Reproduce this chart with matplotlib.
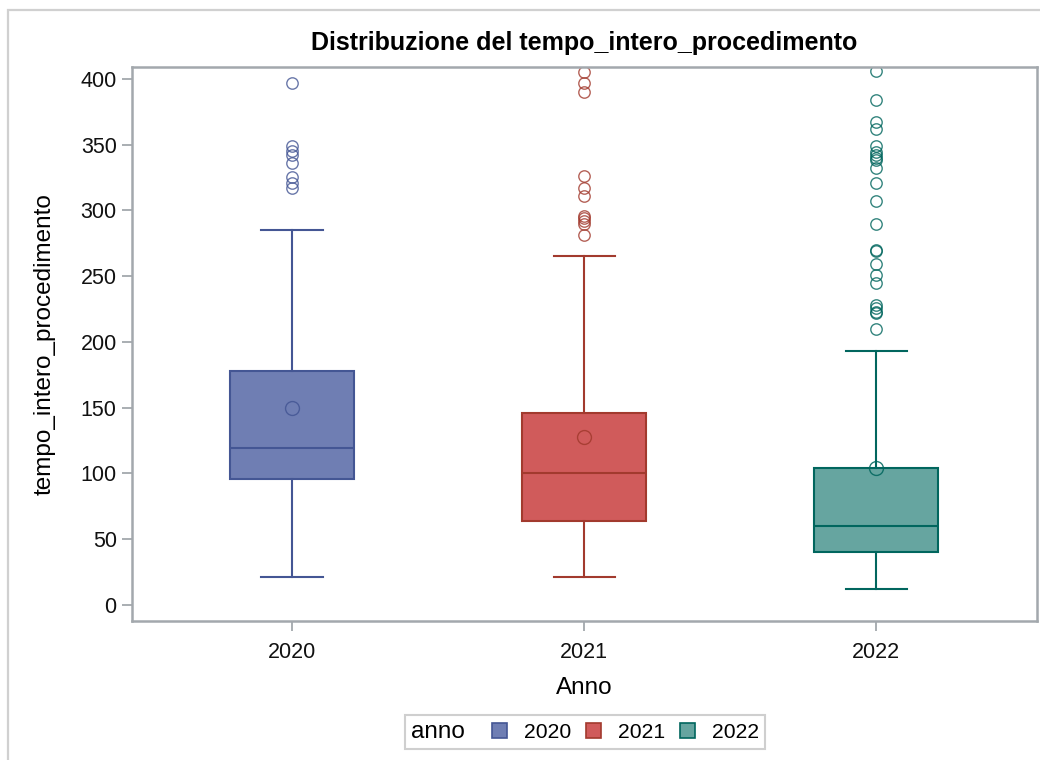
import matplotlib
matplotlib.use("Agg")
import matplotlib.pyplot as plt
from matplotlib.patches import Patch, Rectangle
from matplotlib.offsetbox import HPacker

plt.rcParams['font.family'] = ['Liberation Sans', 'DejaVu Sans']

# Summary statistics per year
anni = ["2020", "2021", "2022"]
whis_lo = [21, 21, 12]
q1 = [96, 64, 40]
mediana = [119, 100, 60]
q3 = [178, 146, 104]
whis_hi = [285, 265, 193]
media = [150, 128, 104]
outlier_2020 = [397, 349, 345, 342, 336, 325, 321, 317]
outlier_2021 = [405, 397, 390, 326, 317, 311, 296, 294, 292, 290, 281]
outlier_2022 = [406, 384, 367, 362, 349, 344, 342, 340, 338, 332, 321, 307,
                290, 270, 269, 259, 251, 245, 228, 226, 223, 222, 210]
outliers = [outlier_2020, outlier_2021, outlier_2022]

fill_colors = ["#6F7EB3", "#D05B5B", "#66A5A0"]
line_colors = ["#445694", "#A23A2E", "#01665E"]

fig = plt.figure(figsize=(10.4, 7.6), dpi=100)
ax = fig.add_axes([132 / 1040, 1 - 621 / 760, (1037 - 132) / 1040, (621 - 67) / 760])

# Light outer frame around the whole graph
fig.patches.append(Rectangle((8 / 1040, -0.05), 1.1, 1 - 10 / 760 + 0.05,
                             transform=fig.transFigure, fill=False,
                             edgecolor="#d0d0d0", linewidth=1.6, zorder=0))

for i in range(len(anni)):
    stats = [dict(med=mediana[i], q1=q1[i], q3=q3[i], whislo=whis_lo[i],
                  whishi=whis_hi[i], mean=media[i], fliers=outliers[i])]
    lc = line_colors[i]
    ax.bxp(stats, positions=[i], widths=0.425, patch_artist=True,
           showmeans=True, meanline=False, manage_ticks=False,
           boxprops=dict(facecolor=fill_colors[i], edgecolor=lc, linewidth=1.5),
           medianprops=dict(color=lc, linewidth=1.5),
           whiskerprops=dict(color=lc, linewidth=1.5),
           capprops=dict(color=lc, linewidth=1.5),
           capwidths=0.21,
           meanprops=dict(marker="o", markerfacecolor="none",
                          markeredgecolor=lc, markersize=10,
                          markeredgewidth=1.0, alpha=0.85),
           flierprops=dict(marker="o", markerfacecolor="none",
                           markeredgecolor=lc, markersize=8.2,
                           markeredgewidth=1.0, alpha=0.8))

ax.set_xlim(-0.548, 2.55)
ax.set_ylim(-12.2, 409)
ax.set_xticks(range(len(anni)))
ax.set_xticklabels(anni)
ax.set_yticks([0, 50, 100, 150, 200, 250, 300, 350, 400])

spine_col = "#a3a8ad"
for s in ax.spines.values():
    s.set_color(spine_col)
    s.set_linewidth(1.8)
ax.tick_params(axis="both", colors=spine_col, labelcolor="#111111",
               labelsize=15.5, length=7, width=1.3)
ax.tick_params(axis="y", pad=4)
ax.tick_params(axis="x", pad=8)

ax.set_title("Distribuzione del tempo_intero_procedimento",
             fontsize=18, fontweight="bold", pad=12)
ax.set_xlabel("Anno", fontsize=17.5, labelpad=10)
ax.set_ylabel("tempo_intero_procedimento", fontsize=17.5, labelpad=18)

fs = 15.2
handles = [Patch(facecolor=fill_colors[i], edgecolor=line_colors[i],
                 linewidth=1.2) for i in range(len(anni))]
leg = fig.legend(handles, anni, title="anno", ncol=3,
                 loc="center", bbox_to_anchor=(585 / 1040, 1 - 732 / 760),
                 fontsize=fs, title_fontsize=17.5, frameon=True,
                 fancybox=False, edgecolor="#cfcfcf", framealpha=1,
                 handlelength=0.72, handleheight=0.72, handletextpad=0.8,
                 columnspacing=0.7, borderpad=0.0)
leg.get_frame().set_linewidth(1.5)
# Put the legend title beside the entries instead of above them
leg._legend_box = HPacker(pad=4, sep=20,
                          align="center",
                          children=[leg._legend_title_box, leg._legend_handle_box])
leg._legend_box.set_figure(fig)
leg._set_loc(leg._loc)

fig.savefig("out.png", dpi=100)
